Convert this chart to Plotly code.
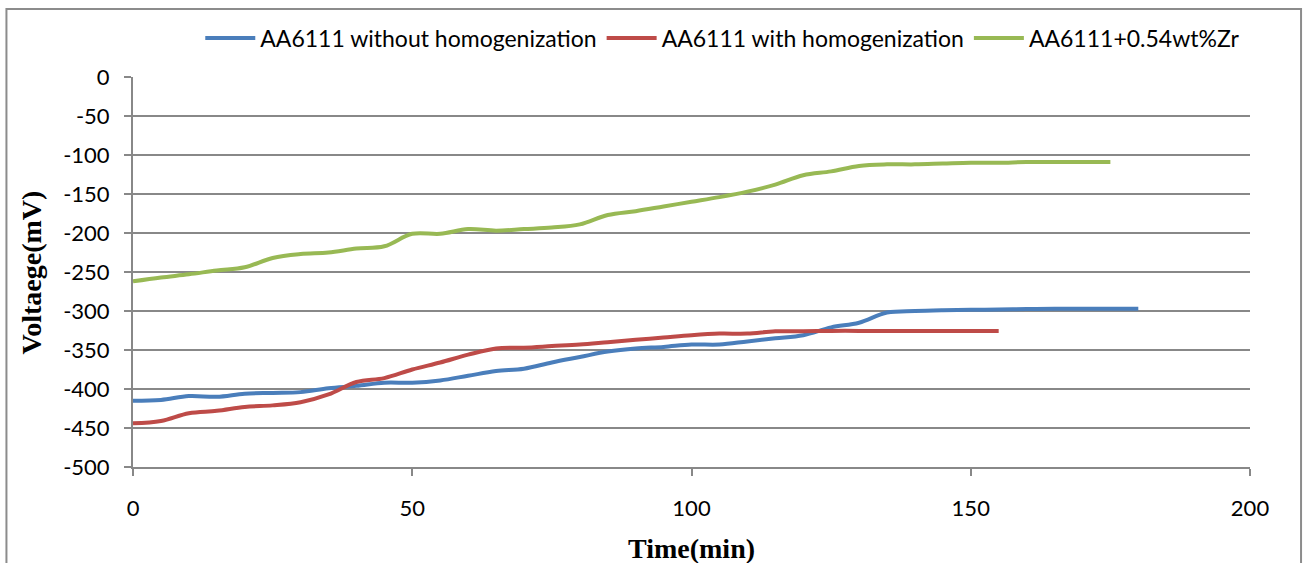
import plotly.graph_objects as go

time_blue = [0, 5, 10, 15, 20, 25, 30, 35, 40, 45, 50, 55, 60, 65, 70, 75, 80, 85, 90, 95,
             100, 105, 110, 115, 120, 125, 130, 135, 140, 145, 150, 155, 160, 165, 170, 175, 180]
volt_blue = [-415, -414, -409, -410, -406, -405, -404, -399, -396, -392, -392, -389, -383, -377,
             -374, -366, -359, -352, -348, -346, -343, -343, -339, -335, -331, -321, -315, -302,
             -300, -299, -298.5, -298, -297.5, -297, -297, -297, -297]

time_red = [0, 5, 10, 15, 20, 25, 30, 35, 40, 45, 50, 55, 60, 65, 70, 75, 80, 85, 90, 95,
            100, 105, 110, 115, 120, 125, 130, 135, 140, 145, 150, 155]
volt_red = [-444, -441, -431, -428, -423, -421, -417, -407, -391, -386, -375, -366, -356, -348,
            -347, -345, -343, -340, -337, -334, -331, -329, -329, -326, -326, -325.5, -325.5,
            -325.5, -325.5, -325.5, -325.5, -325.5]

time_green = [0, 5, 10, 15, 20, 25, 30, 35, 40, 45, 50, 55, 60, 65, 70, 75, 80, 85, 90, 95,
              100, 105, 110, 115, 120, 125, 130, 135, 140, 145, 150, 155, 160, 165, 170, 175]
volt_green = [-262, -257, -253, -248, -244, -232, -227, -225, -220, -217, -201, -201, -195, -197,
              -195, -193, -189, -177, -172, -166, -160, -154, -147, -138, -126, -121, -114, -112,
              -112, -111, -110, -110, -109, -109, -109, -109]

names = ["AA6111 without homogenization", "AA6111 with homogenization", "AA6111+0.54wt%Zr"]
colors = ["#4a7ebb", "#be4b48", "#98b954"]

x_ticks = [0, 50, 100, 150, 200]
y_ticks = [0, -50, -100, -150, -200, -250, -300, -350, -400, -450, -500]
x_title = "Time(min)"
y_title = "Voltaege(mV)"

fig = go.Figure()
for t, v, n, c in [(time_blue, volt_blue, names[0], colors[0]),
                   (time_red, volt_red, names[1], colors[1]),
                   (time_green, volt_green, names[2], colors[2])]:
    fig.add_trace(go.Scatter(x=t, y=v, name=n, mode="lines",
                             line=dict(color=c, width=4, shape="spline", smoothing=1.0)))

grid_c = "#888888"
fig.update_layout(
    width=1309, height=563,
    margin=dict(l=133, r=59, t=77, b=96),
    paper_bgcolor="white", plot_bgcolor="white",
    font=dict(family="Lato, sans-serif", size=22, color="black"),
    showlegend=True,
    legend=dict(orientation="h", x=0.528, xanchor="center", y=1.1, yanchor="middle",
                font=dict(family="Lato, sans-serif", size=23), itemwidth=50,
                bgcolor="rgba(0,0,0,0)", traceorder="normal"),
    xaxis=dict(range=[0, 200], tickvals=x_ticks, ticktext=[str(v) for v in x_ticks],
               showgrid=False, showline=True, automargin=False,
               linecolor=grid_c, linewidth=2, ticks="outside", ticklen=7, tickcolor=grid_c,
               tickwidth=2, zeroline=False, tickfont=dict(size=22), ticklabelstandoff=14),
    yaxis=dict(range=[-500, 0], tickvals=y_ticks, ticktext=[str(v) for v in y_ticks],
               showgrid=True, gridcolor=grid_c, gridwidth=2, automargin=False,
               showline=True, linecolor=grid_c, linewidth=2, ticks="outside", ticklen=7,
               tickcolor=grid_c, tickwidth=2, zeroline=False, tickfont=dict(size=22),
               ticklabelstandoff=10),
)

fig.add_annotation(text="<b>" + x_title + "</b>", xref="paper", yref="paper",
                   x=0.5, y=-0.2077, xanchor="center", yanchor="middle", showarrow=False,
                   font=dict(family="Liberation Serif, serif", size=28, color="black"))
fig.add_annotation(text="<b>" + y_title + "</b>", xref="paper", yref="paper",
                   x=-0.0909, y=0.5, xanchor="center", yanchor="middle", showarrow=False,
                   textangle=-90,
                   font=dict(family="Liberation Serif, serif", size=28, color="black"))

fig.add_shape(type="rect", xref="paper", yref="paper",
              x0=-0.1133, x1=1.0457, y0=-0.3, y1=1.1744,
              line=dict(color="#8c8c8c", width=2), fillcolor="rgba(0,0,0,0)", layer="below")

fig.write_html("out.html")
